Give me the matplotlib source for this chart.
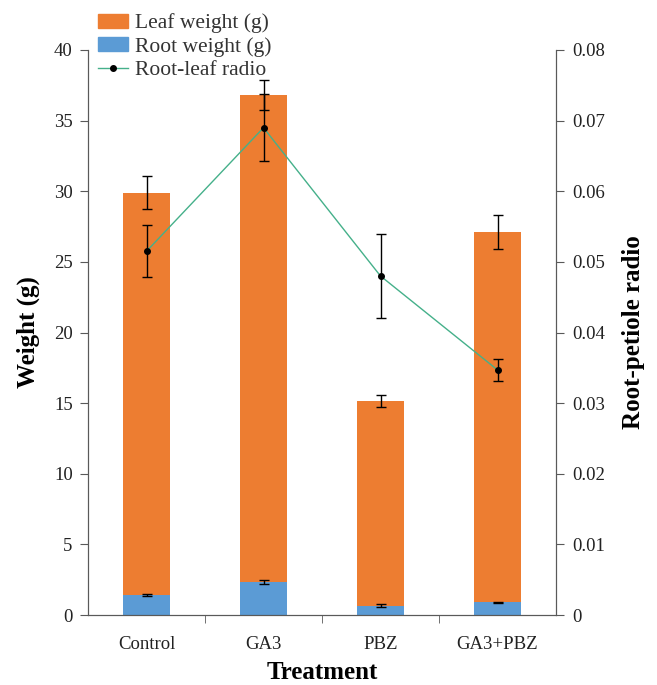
import matplotlib
matplotlib.use("Agg")
import matplotlib.pyplot as plt
import numpy as np
from matplotlib.patches import Patch
from matplotlib.lines import Line2D

categories = ["Control", "GA3", "PBZ", "GA3+PBZ"]
root_weight = [1.42, 2.34, 0.65, 0.90]
root_err = [0.10, 0.15, 0.10, 0.05]
total_weight = [29.9, 36.8, 15.15, 27.1]
total_err = [1.15, 1.05, 0.45, 1.2]
leaf_weight = [t - r for t, r in zip(total_weight, root_weight)]
ratio = [0.0515, 0.0690, 0.0480, 0.0347]
ratio_err = [0.0037, 0.0047, 0.0059, 0.0016]

plt.rcParams['font.family'] = ['Liberation Serif', 'DejaVu Serif']
orange = "#ED7D31"
blue = "#5B9BD5"
green = "#45B08A"
axcol = "#595959"
tickfs = 13.5

fig = plt.figure(figsize=(6.57, 6.85), dpi=100)
ax = fig.add_axes([88/657, 70/685, 468/657, 565/685])
x = np.arange(len(categories))
w = 0.4
ax.bar(x, root_weight, w, color=blue, zorder=2)
ax.bar(x, leaf_weight, w, bottom=root_weight, color=orange, zorder=2)
ax.errorbar(x, root_weight, yerr=root_err, fmt='none', ecolor='black', elinewidth=1, capsize=3.5, capthick=1, zorder=3)
ax.errorbar(x, total_weight, yerr=total_err, fmt='none', ecolor='black', elinewidth=1, capsize=3.5, capthick=1, zorder=3)
ax.set_xlim(-0.5, 3.5)
ax.set_ylim(0, 40)
ax.set_yticks(np.arange(0, 41, 5))
ax.set_xticks(x)
ax.set_xticklabels(categories)
ax.set_xticks([0.5, 1.5, 2.5], minor=True)
ax.tick_params(axis='x', which='major', length=0, pad=15, labelsize=tickfs, labelcolor='#222222')
ax.tick_params(axis='x', which='minor', length=6, color=axcol, direction='out')
ax.tick_params(axis='y', length=6, color=axcol, labelsize=tickfs, labelcolor='#222222', pad=5)
ax.spines['top'].set_visible(False)
for s in ['left', 'bottom', 'right']:
    ax.spines[s].set_color(axcol)
ax.set_ylabel("Weight (g)", fontsize=18, fontweight='bold', labelpad=10)
ax.set_xlabel("Treatment", fontsize=18, fontweight='bold', labelpad=6)

ax2 = ax.twinx()
ax2.errorbar(x, ratio, yerr=ratio_err, fmt='none', ecolor='black', elinewidth=1, capsize=3.5, capthick=1, zorder=3)
ax2.plot(x, ratio, color=green, lw=1, marker='o', markersize=4, markerfacecolor='black', markeredgecolor='black', zorder=4)
ax2.set_ylim(0, 0.08)
ax2.set_yticks(np.arange(0, 0.081, 0.01))
ax2.set_yticklabels(["0"] + ["%.2f" % v for v in np.arange(0.01, 0.081, 0.01)])
ax2.tick_params(axis='y', length=6, color=axcol, labelsize=tickfs, labelcolor='#222222', pad=6)
ax2.spines['top'].set_visible(False)
for s in ['left', 'bottom', 'right']:
    ax2.spines[s].set_color(axcol)
ax2.set_ylabel("Root-petiole radio", fontsize=18, fontweight='bold', labelpad=12)

handles = [Patch(color=orange, label="Leaf weight (g)"),
           Patch(color=blue, label="Root weight (g)"),
           Line2D([0], [0], color=green, lw=1, marker='o', markersize=4,
                  markerfacecolor='black', markeredgecolor='black', label="Root-leaf radio")]
leg = fig.legend(handles=handles, loc='upper left', bbox_to_anchor=(90/657, 1 - 6/685),
                 frameon=False, fontsize=15.5, handlelength=1.4, handleheight=0.65,
                 labelspacing=0.17, handletextpad=0.35, borderaxespad=0.15, borderpad=0.2)
for t in leg.get_texts():
    t.set_color('#333333')

fig.savefig("out.png", dpi=100)
